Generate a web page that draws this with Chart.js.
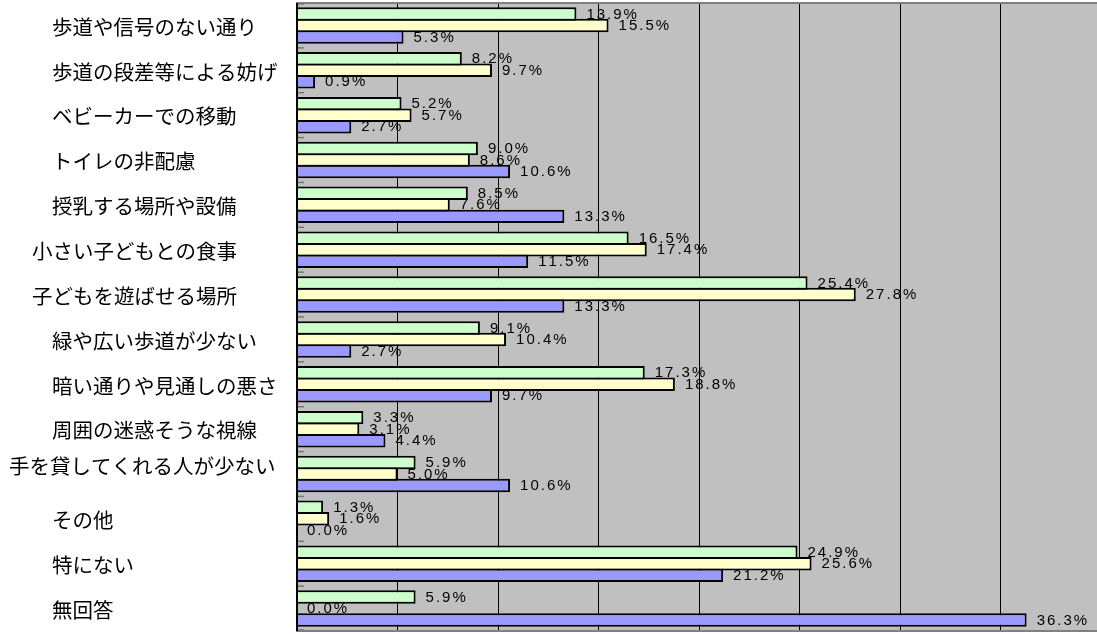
<!DOCTYPE html>
<html>
<head>
<meta charset="utf-8">
<script src="https://cdn.jsdelivr.net/npm/chart.js@4/dist/chart.umd.min.js"></script>
<style>
  html, body { margin: 0; padding: 0; background: #fff; overflow: hidden; }
  canvas { display: block; }
</style>
</head>
<body>
<canvas id="chart" width="1110" height="634"></canvas>
<script>
// Survey categories (top to bottom)
const categories = [
  '歩道や信号のない通り',
  '歩道の段差等による妨げ',
  'ベビーカーでの移動',
  'トイレの非配慮',
  '授乳する場所や設備',
  '小さい子どもとの食事',
  '子どもを遊ばせる場所',
  '緑や広い歩道が少ない',
  '暗い通りや見通しの悪さ',
  '周囲の迷惑そうな視線',
  '手を貸してくれる人が少ない',
  'その他',
  '特にない',
  '無回答'
];

// Percentages for the three groups
const seriesGreen  = [13.9, 8.2, 5.2,  9.0,  8.5, 16.5, 25.4,  9.1, 17.3, 3.3,  5.9, 1.3, 24.9,  5.9];
const seriesYellow = [15.5, 9.7, 5.7,  8.6,  7.6, 17.4, 27.8, 10.4, 18.8, 3.1,  5.0, 1.6, 25.6,  0.0];
const seriesBlue   = [ 5.3, 0.9, 2.7, 10.6, 13.3, 11.5, 13.3,  2.7,  9.7, 4.4, 10.6, 0.0, 21.2, 36.3];

// Value axis grid steps (percent)
const xTicks = [0, 5, 10, 15, 20, 25, 30, 35, 40];

// Category label placement (indent from left, small nudges for a few rows)
const LABEL_LEFT = 52;
const labelNudge = { 5: { dx: -20 }, 6: { dx: -20 }, 10: { dx: -43, dy: -9 } };

const VALUE_FONT = '15px "Liberation Sans", Arial, sans-serif';
const CAT_FONT = '20.5px "Noto Sans CJK JP", sans-serif';

function drawSpaced(ctx, text, x, y, spacing) {
  for (const ch of text) {
    ctx.fillText(ch, x, y);
    x += ctx.measureText(ch).width + spacing;
  }
}

const plotDecor = {
  id: 'plotDecor',
  beforeDraw(chart) {
    const { ctx, chartArea: a } = chart;
    ctx.save();
    ctx.fillStyle = '#c0c0c0';
    ctx.fillRect(a.left, a.top, a.right - a.left, a.bottom - a.top);

    // value labels sit underneath the grid lines
    ctx.font = VALUE_FONT;
    ctx.fillStyle = '#000';
    ctx.textAlign = 'left';
    ctx.textBaseline = 'middle';
    chart.data.datasets.forEach((ds, d) => {
      chart.getDatasetMeta(d).data.forEach((bar, i) => {
        const text = ds.data[i].toFixed(1) + '%';
        drawSpaced(ctx, text, bar.x + 10, bar.y + 0.5, 2);
      });
    });
    ctx.restore();
  },
  afterDatasetsDraw(chart) {
    const { ctx, chartArea: a } = chart;
    const yScale = chart.scales.y;
    ctx.save();

    // plot frame
    ctx.strokeStyle = '#808080';
    ctx.lineWidth = 2;
    ctx.strokeRect(a.left, a.top, a.right - a.left, a.bottom - a.top);

    // inside tick marks at category boundaries
    ctx.strokeStyle = '#777';
    ctx.lineWidth = 1.5;
    const n = chart.data.labels.length;
    for (let i = 0; i <= n; i++) {
      let y;
      if (i === 0) y = a.top + 1;
      else if (i === n) y = a.bottom - 1;
      else y = (yScale.getPixelForValue(i - 1) + yScale.getPixelForValue(i)) / 2;
      ctx.beginPath();
      ctx.moveTo(a.left, y);
      ctx.lineTo(a.left + 7, y);
      ctx.stroke();
    }

    // category axis line
    ctx.strokeStyle = '#000';
    ctx.lineWidth = 2;
    ctx.beginPath();
    ctx.moveTo(a.left, a.top);
    ctx.lineTo(a.left, a.bottom);
    ctx.stroke();

    // category labels
    ctx.font = CAT_FONT;
    ctx.fillStyle = '#000';
    ctx.textAlign = 'left';
    ctx.textBaseline = 'middle';
    chart.data.labels.forEach((label, i) => {
      const nudge = labelNudge[i] || {};
      const x = LABEL_LEFT + (nudge.dx || 0);
      const y = yScale.getPixelForValue(i) + 1.5 + (nudge.dy || 0);
      ctx.fillText(label, x, y);
    });
    ctx.restore();
  }
};

new Chart(document.getElementById('chart'), {
  type: 'bar',
  data: {
    labels: categories,
    datasets: [
      { label: 'A', data: seriesGreen,  backgroundColor: '#ccffcc' },
      { label: 'B', data: seriesYellow, backgroundColor: '#ffffcc' },
      { label: 'C', data: seriesBlue,   backgroundColor: '#9999ff' }
    ]
  },
  options: {
    indexAxis: 'y',
    responsive: false,
    animation: false,
    devicePixelRatio: 1,
    layout: { padding: { top: 3, bottom: 3, left: 0, right: 9 } },
    datasets: {
      bar: {
        categoryPercentage: 0.77,
        barPercentage: 1.17,
        borderWidth: 2,
        borderColor: '#000'
      }
    },
    plugins: {
      legend: { display: false },
      tooltip: { enabled: false }
    },
    scales: {
      x: {
        min: xTicks[0],
        max: xTicks[xTicks.length - 1],
        afterBuildTicks(scale) { scale.ticks = xTicks.map(v => ({ value: v })); },
        ticks: { display: false },
        grid: { color: '#000', lineWidth: 1, drawTicks: false },
        border: { display: false }
      },
      y: {
        ticks: { display: false },
        grid: { display: false, drawTicks: false },
        border: { display: false },
        afterFit(scale) { scale.width = 297; }
      }
    }
  },
  plugins: [plotDecor]
});
</script>
</body>
</html>
